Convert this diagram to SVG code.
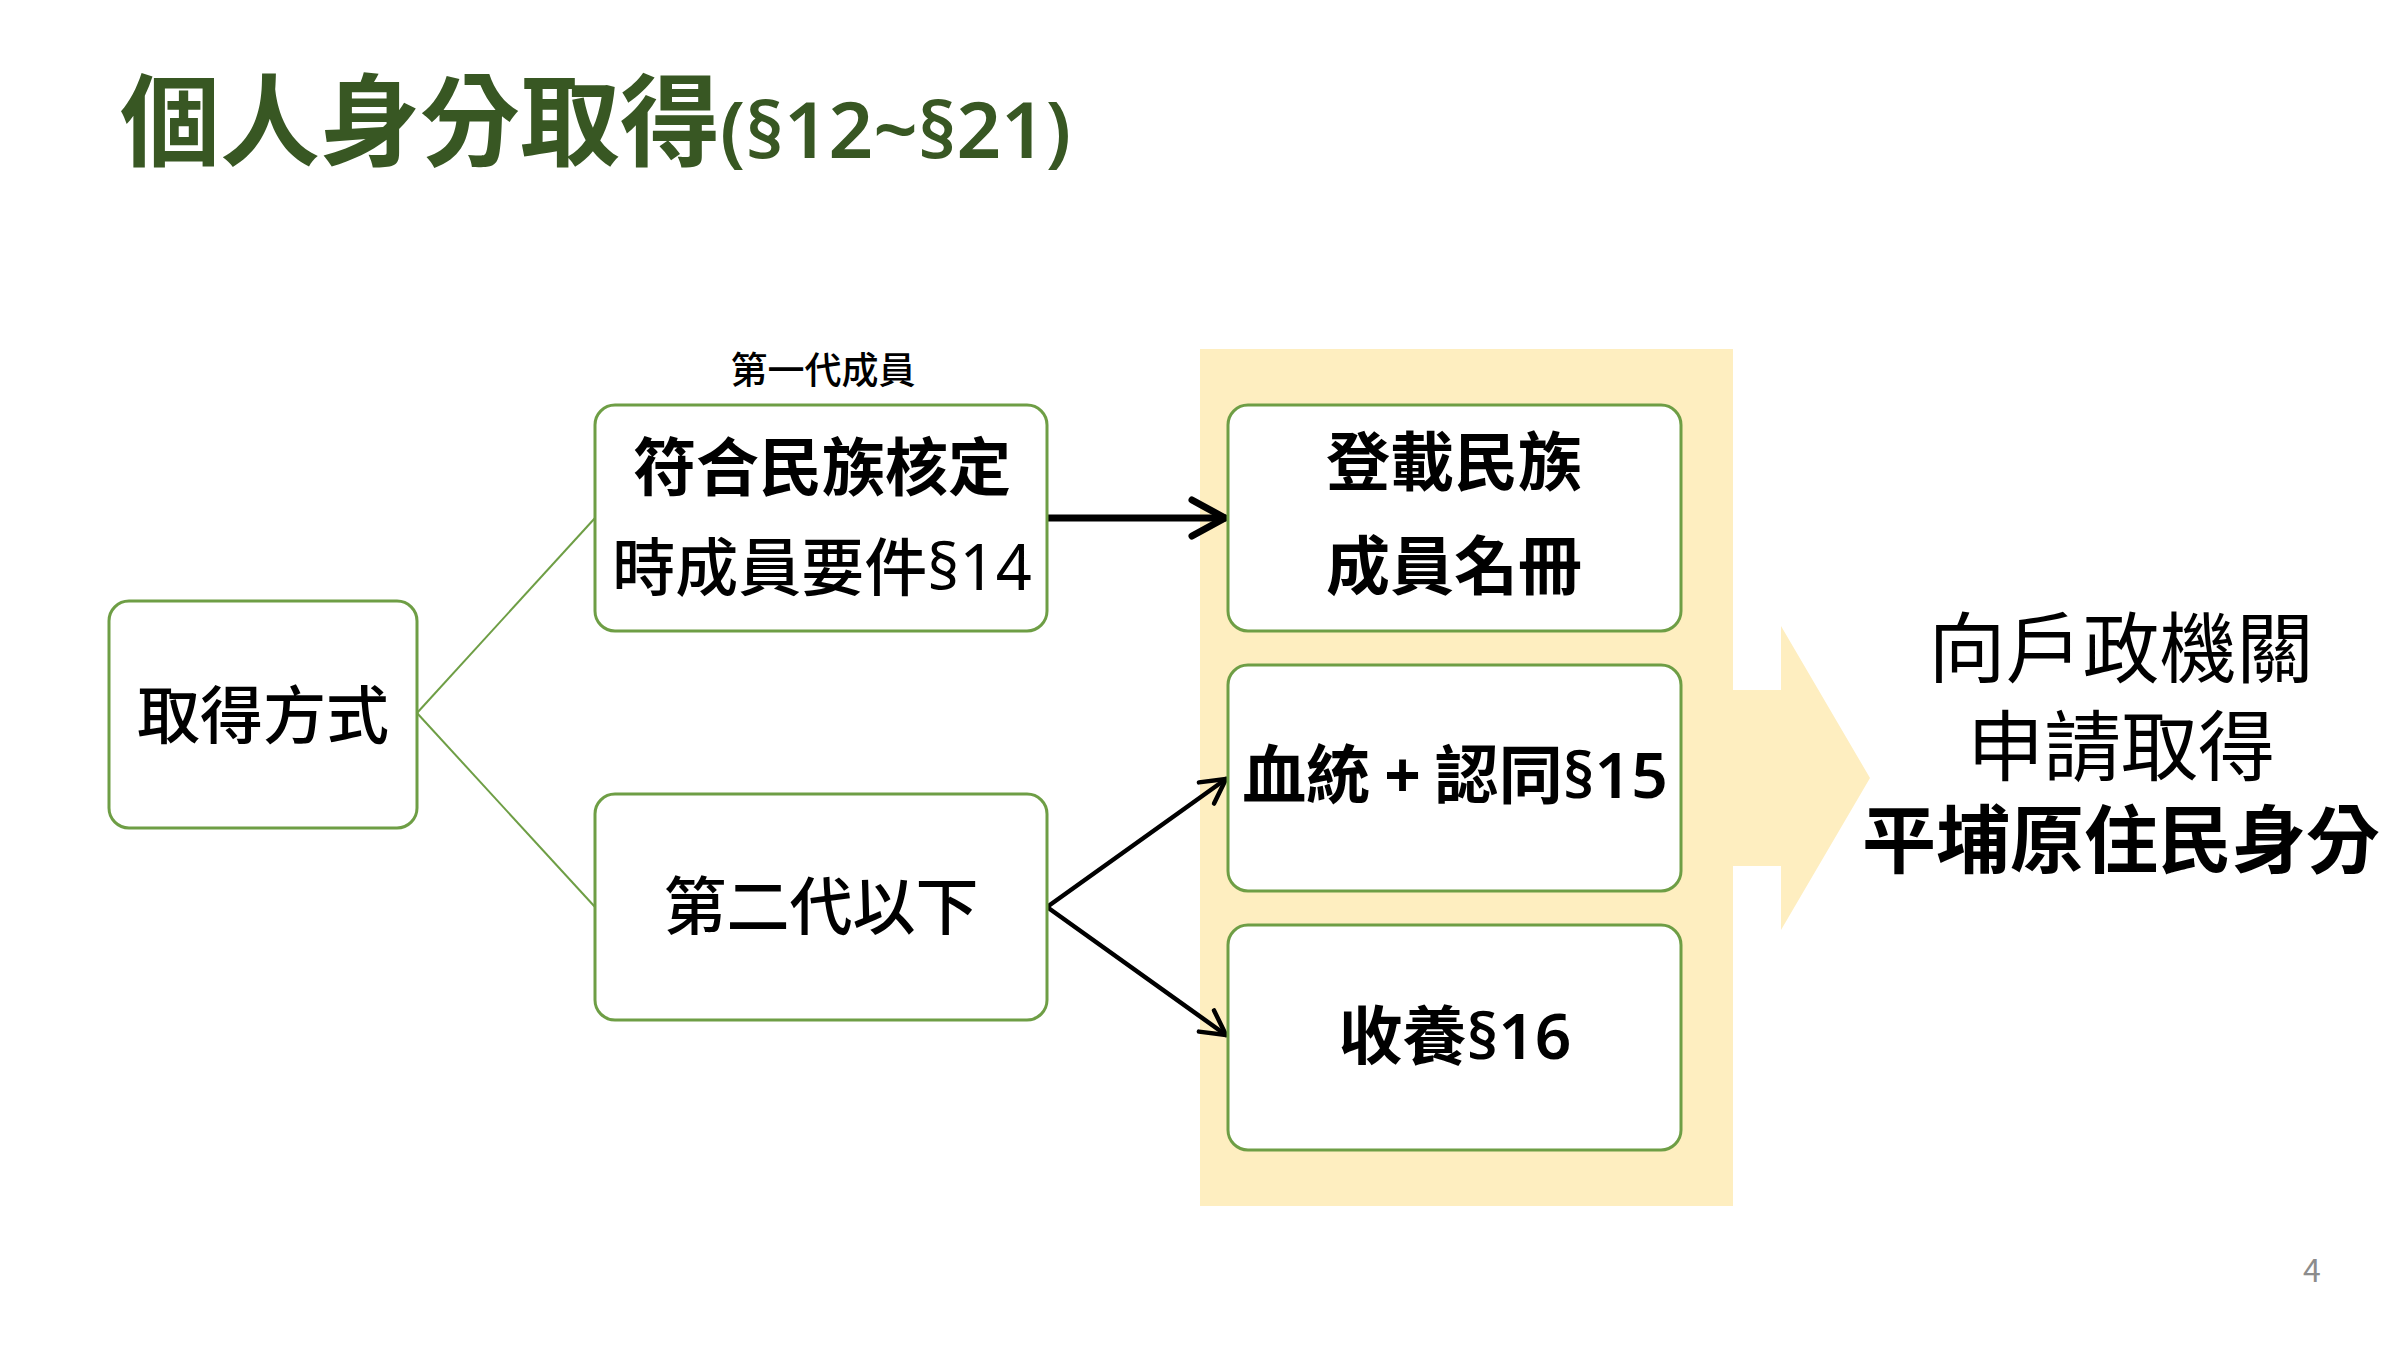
<svg xmlns="http://www.w3.org/2000/svg" width="2400" height="1350" viewBox="0 0 2400 1350">
  <style>
    text { font-family: "Noto Sans CJK TC", "Noto Sans", sans-serif; fill: #000; }
    .lat { font-family: "Noto Sans", "Open Sans", sans-serif; }
    .box { fill: #fff; stroke: #6e9e45; stroke-width: 3; }
    .branch { fill: none; stroke: #6e9e45; stroke-width: 2; }
    .arrow-thick { fill: none; stroke: #000; stroke-width: 7; stroke-linecap: round; }
    .arrow-thin { fill: none; stroke: #000; stroke-width: 4.5; stroke-linecap: round; }
    .big { font-size: 64px; text-anchor: middle; }
    .b { font-weight: 700; }
    .m { font-weight: 500; }
    .right { font-size: 77px; text-anchor: middle; }
  </style>
  <defs>
    <marker id="headThick" markerUnits="userSpaceOnUse" viewBox="-45 -25 50 50" refX="0" refY="0" markerWidth="50" markerHeight="50" orient="auto" overflow="visible">
      <path d="M-33,-18 L0,0 L-33,18" fill="none" stroke="#000" stroke-width="7" stroke-linecap="round" stroke-linejoin="round"/>
    </marker>
    <marker id="headThin" markerUnits="userSpaceOnUse" viewBox="-35 -20 40 40" refX="0" refY="0" markerWidth="40" markerHeight="40" orient="auto" overflow="visible">
      <path d="M-24,-13 L0,0 L-24,13" fill="none" stroke="#000" stroke-width="4.5" stroke-linecap="round" stroke-linejoin="round"/>
    </marker>
  </defs>

  <rect width="2400" height="1350" fill="#fff"/>

  <g id="title">
    <text x="120" y="158" font-size="100" font-weight="700" style="fill:#385723">個人身分取得<tspan class="lat" font-size="78" font-weight="600">(§12~§21)</tspan></text>
  </g>

  <g id="band">
    <path d="M1200,349 H1733 V690 H1781 V626 L1870,778 L1781,930 V866 H1733 V1206 H1200 Z" fill="#feeec0"/>
  </g>

  <g id="connectors">
    <line class="branch" x1="417" y1="713" x2="595" y2="518"/>
    <line class="branch" x1="417" y1="713" x2="595" y2="907"/>
    <line class="arrow-thick" x1="1047" y1="518" x2="1225" y2="518" marker-end="url(#headThick)"/>
    <line class="arrow-thin" x1="1047" y1="907" x2="1226" y2="779" marker-end="url(#headThin)"/>
    <line class="arrow-thin" x1="1047" y1="907" x2="1226" y2="1035" marker-end="url(#headThin)"/>
  </g>

  <g id="node-method">
    <rect class="box" x="109" y="601" width="308" height="227" rx="20"/>
    <text class="big m" x="263" y="738" style="font-size:63px">取得方式</text>
  </g>

  <g id="label-first-gen">
    <text x="823" y="384" font-size="37" font-weight="500" text-anchor="middle">第一代成員</text>
  </g>

  <g id="node-first-gen">
    <rect class="box" x="595" y="405" width="452" height="226" rx="20"/>
    <text class="big b" x="822" y="490" style="font-size:63px">符合民族核定</text>
    <text class="big m" x="822" y="590" style="font-size:63px">時成員要件<tspan class="lat" font-weight="400">§14</tspan></text>
  </g>

  <g id="node-second-gen">
    <rect class="box" x="595" y="794" width="452" height="226" rx="20"/>
    <text class="big m" x="821" y="929" style="font-size:63px">第二代以下</text>
  </g>

  <g id="node-register">
    <rect class="box" x="1228" y="405" width="453" height="226" rx="20"/>
    <text class="big b" x="1454" y="485">登載民族</text>
    <text class="big b" x="1454" y="589">成員名冊</text>
  </g>

  <g id="node-blood">
    <rect class="box" x="1228" y="665" width="453" height="226" rx="20"/>
    <text class="big b" x="1455" y="798">血統<tspan class="lat" dx="14">+</tspan><tspan dx="14">認同</tspan><tspan class="lat" font-weight="600">§15</tspan></text>
  </g>

  <g id="node-adopt">
    <rect class="box" x="1228" y="925" width="453" height="225" rx="20"/>
    <text class="big b" x="1455" y="1059">收養<tspan class="lat" font-weight="600">§16</tspan></text>
  </g>

  <g id="result">
    <text class="right" x="2121" y="677" font-weight="400">向戶政機關</text>
    <text class="right" x="2121" y="775" font-weight="400">申請取得</text>
    <text class="right b" x="2121" y="867" style="font-size:74px">平埔原住民身分</text>
  </g>

  <g id="page-number">
    <text x="2312" y="1282" font-size="32" text-anchor="middle" style="fill:#8c8c8c">4</text>
  </g>
</svg>
